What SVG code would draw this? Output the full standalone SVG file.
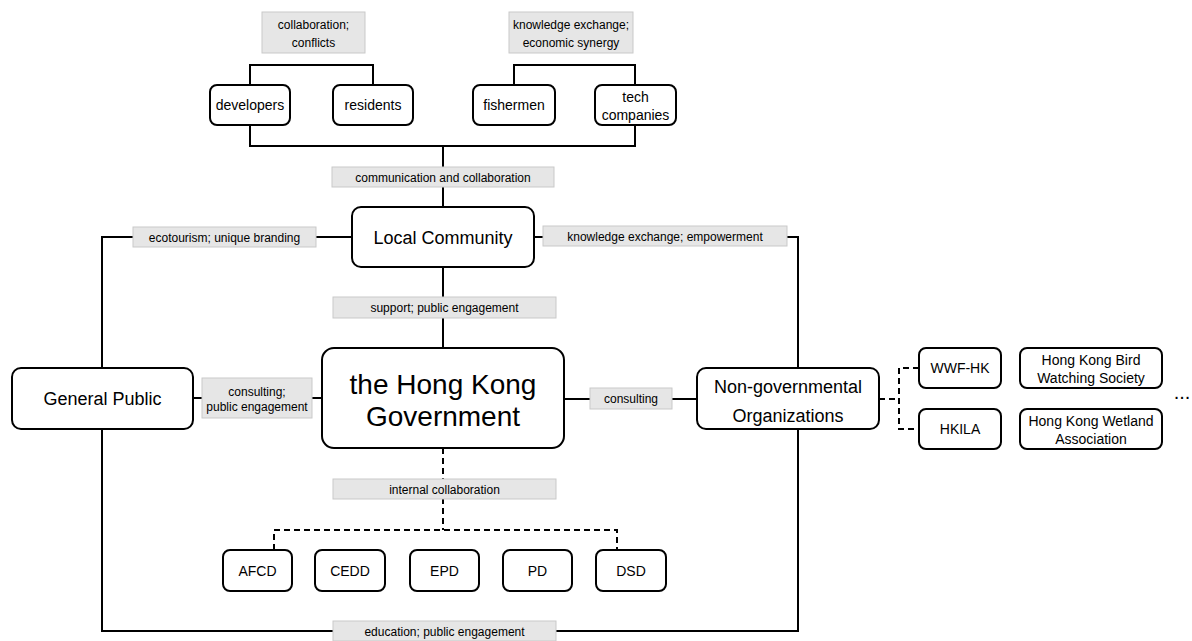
<svg xmlns="http://www.w3.org/2000/svg" width="1192" height="641" viewBox="0 0 1192 641">
<style>
text{font-family:"Liberation Sans",Arial,sans-serif;fill:#000;text-anchor:middle}
.node{fill:#fff;stroke:#000;stroke-width:2}
.lbl{fill:#e6e6e6;stroke:#c9c9c9;stroke-width:1}
.ln{fill:none;stroke:#000;stroke-width:2}
.dash{fill:none;stroke:#000;stroke-width:2;stroke-dasharray:6 4}
.t12{font-size:12px}
.t14{font-size:14px}
.t18{font-size:18px}
.t28{font-size:28px}
</style>
<rect width="1192" height="641" fill="#fff"/>
<g id="connectors">
<path class="ln" d="M250 85 V65 H373 V85"/>
<path class="ln" d="M514 85 V65 H635 V85"/>
<path class="ln" d="M250 125 V146 H635 V125"/>
<path class="ln" d="M443 146 V207"/>
<path class="ln" d="M443 267 V348"/>
<path class="ln" d="M352 237 H102 V368"/>
<path class="ln" d="M102 429 V631 H798 V429"/>
<path class="ln" d="M534 237 H798 V368"/>
<path class="ln" d="M193 398 H322"/>
<path class="ln" d="M564 399 H697"/>
<path class="dash" d="M443 448 V530"/>
<path class="dash" d="M274 550 V530 H617 V550"/>
<path class="dash" d="M879 399 H899"/>
<path class="dash" d="M919 368 H899 V429 H919"/>
</g>
<g id="labels">
<g id="lbl-collab"><rect class="lbl" x="262" y="12" width="103" height="41"/><text class="t12" x="313.5" y="29">collaboration;</text><text class="t12" x="313.5" y="47">conflicts</text></g>
<g id="lbl-knowledge-top"><rect class="lbl" x="509" y="12" width="124" height="41"/><text class="t12" x="571" y="29">knowledge exchange;</text><text class="t12" x="571" y="47">economic synergy</text></g>
<g id="lbl-comm"><rect class="lbl" x="332" y="167" width="222" height="20"/><text class="t12" x="443" y="181.5">communication and collaboration</text></g>
<g id="lbl-eco"><rect class="lbl" x="133" y="227" width="183" height="20"/><text class="t12" x="224.5" y="241.5">ecotourism; unique branding</text></g>
<g id="lbl-know"><rect class="lbl" x="543" y="226" width="244" height="20"/><text class="t12" x="665" y="240.5">knowledge exchange; empowerment</text></g>
<g id="lbl-support"><rect class="lbl" x="333" y="297" width="223" height="21"/><text class="t12" x="444.5" y="312">support; public engagement</text></g>
<g id="lbl-consult-gp"><rect class="lbl" x="202" y="378" width="110" height="40"/><text class="t12" x="257" y="396">consulting;</text><text class="t12" x="257" y="411">public engagement</text></g>
<g id="lbl-consult-ngo"><rect class="lbl" x="590" y="388" width="82" height="21"/><text class="t12" x="631" y="403">consulting</text></g>
<g id="lbl-internal"><rect class="lbl" x="333" y="479" width="223" height="20"/><text class="t12" x="444.5" y="493.5">internal collaboration</text></g>
<g id="lbl-edu"><rect class="lbl" x="333" y="621" width="223" height="20"/><text class="t12" x="444.5" y="635.5">education; public engagement</text></g>
</g>
<g id="developers"><rect class="node" x="210" y="85" width="80" height="40" rx="7"/><text class="t14" x="250" y="110">developers</text></g>
<g id="residents"><rect class="node" x="333" y="85" width="80" height="40" rx="7"/><text class="t14" x="373" y="110">residents</text></g>
<g id="fishermen"><rect class="node" x="473" y="85" width="82" height="40" rx="7"/><text class="t14" x="514" y="110">fishermen</text></g>
<g id="tech"><rect class="node" x="595" y="85" width="81" height="40" rx="7"/><text class="t14" x="635.5" y="102">tech</text><text class="t14" x="635.5" y="120">companies</text></g>
<g id="local-community"><rect class="node" x="352" y="207" width="182" height="60" rx="9"/><text class="t18" x="443" y="243.5">Local Community</text></g>
<g id="general-public"><rect class="node" x="12" y="368" width="181" height="61" rx="9"/><text class="t18" x="102.5" y="405">General Public</text></g>
<g id="hk-gov"><rect class="node" x="322" y="348" width="242" height="100" rx="12"/><text class="t28" x="443" y="394">the Hong Kong</text><text class="t28" x="443" y="426">Government</text></g>
<g id="ngo"><rect class="node" x="697" y="368" width="182" height="61" rx="9"/><text class="t18" x="788" y="393">Non-governmental</text><text class="t18" x="788" y="422">Organizations</text></g>
<g id="wwf"><rect class="node" x="919" y="348" width="82" height="40" rx="7"/><text class="t14" x="960" y="373">WWF-HK</text></g>
<g id="hkila"><rect class="node" x="919" y="409" width="82" height="40" rx="7"/><text class="t14" x="960" y="434">HKILA</text></g>
<g id="hkbws"><rect class="node" x="1020" y="348" width="142" height="40" rx="7"/><text class="t14" x="1091" y="365">Hong Kong Bird</text><text class="t14" x="1091" y="383">Watching Society</text></g>
<g id="hkwa"><rect class="node" x="1020" y="409" width="142" height="40" rx="7"/><text class="t14" x="1091" y="426">Hong Kong Wetland</text><text class="t14" x="1091" y="444">Association</text></g>
<g id="more"><text x="1182" y="399" style="font-size:20px">...</text></g>
<g id="afcd"><rect class="node" x="223" y="550" width="69" height="41" rx="7"/><text class="t14" x="257.5" y="575.5">AFCD</text></g>
<g id="cedd"><rect class="node" x="315" y="550" width="70" height="41" rx="7"/><text class="t14" x="350" y="575.5">CEDD</text></g>
<g id="epd"><rect class="node" x="410" y="550" width="69" height="41" rx="7"/><text class="t14" x="444.5" y="575.5">EPD</text></g>
<g id="pd"><rect class="node" x="503" y="550" width="69" height="41" rx="7"/><text class="t14" x="537.5" y="575.5">PD</text></g>
<g id="dsd"><rect class="node" x="596" y="550" width="70" height="41" rx="7"/><text class="t14" x="631" y="575.5">DSD</text></g>
</svg>
